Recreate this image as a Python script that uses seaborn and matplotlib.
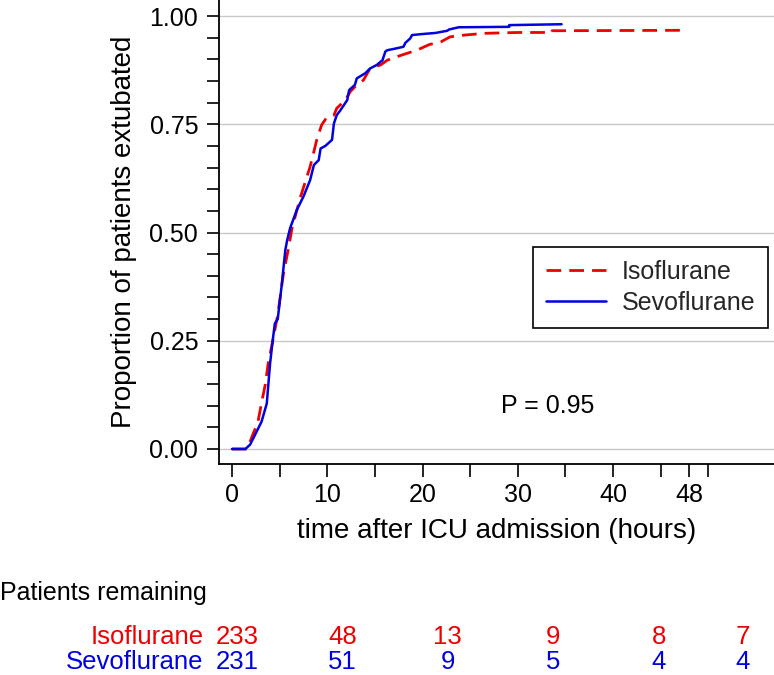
import matplotlib
matplotlib.use('Agg')
import matplotlib.pyplot as plt
import pandas as pd
import seaborn as sns

# cumulative proportion extubated
iso_time = [0, 1.6, 2.25, 2.7, 3.1, 3.5, 3.8, 4.3, 4.8, 5.4, 5.9, 6.3, 7.2, 8.2, 8.9, 9.4,
            9.95, 10.7, 11.0, 11.9, 12.4, 13.1, 13.8, 14.5, 15.6, 16.3, 17.3, 18.4, 19.4,
            20.7, 21.9, 22.9, 24.4, 26.5, 30.0, 33.6, 33.6, 47.2]
iso_prop = [0, 0.0, 0.037, 0.06, 0.106, 0.15, 0.198, 0.252, 0.31, 0.405, 0.46, 0.51, 0.583,
            0.652, 0.714, 0.748, 0.766, 0.771, 0.787, 0.806, 0.825, 0.841, 0.852, 0.879,
            0.887, 0.898, 0.906, 0.914, 0.921, 0.934, 0.940, 0.952, 0.956, 0.96, 0.962,
            0.962, 0.966, 0.967]

sevo_time = [0, 1.4, 1.9, 2.4, 3.1, 3.65, 4.0, 4.28, 4.5, 4.8, 5.2, 5.6, 5.8, 6.1, 6.8, 7.5,
             8.2, 8.6, 9.1, 9.3, 9.8, 10.5, 10.7, 11.0, 11.4, 12.1, 12.3, 12.9, 13.1, 14.0,
             14.5, 15.2, 15.8, 16.1, 16.3, 17.2, 18.0, 18.2, 18.7, 18.9, 19.8, 21.4, 22.6,
             22.8, 23.8, 29.1, 29.1, 34.6]
sevo_prop = [0, 0.0, 0.01, 0.032, 0.063, 0.105, 0.198, 0.252, 0.29, 0.30, 0.375, 0.46, 0.483,
             0.51, 0.552, 0.583, 0.621, 0.656, 0.667, 0.694, 0.70, 0.714, 0.752, 0.771,
             0.783, 0.806, 0.829, 0.841, 0.856, 0.868, 0.879, 0.887, 0.898, 0.918, 0.921,
             0.925, 0.929, 0.938, 0.948, 0.956, 0.958, 0.961, 0.966, 0.969, 0.974, 0.975,
             0.979, 0.981]

risk_times = [0, 10, 20, 30, 40, 48]
iso_at_risk = [233, 48, 13, 9, 8, 7]
sevo_at_risk = [231, 51, 9, 5, 4, 4]

RED = '#ee0000'
BLUE = '#0000e0'
FS = 18

sns.set_theme(style='ticks')
plt.rcParams['font.family'] = ['Liberation Sans', 'DejaVu Sans']

fig = plt.figure(figsize=(7.74, 6.75), dpi=100)
ax = fig.add_axes([219 / 774, 1 - 463.5 / 675, 555 / 774, 463.5 / 675])

df_iso = pd.DataFrame({'time': iso_time, 'prop': iso_prop})
df_sevo = pd.DataFrame({'time': sevo_time, 'prop': sevo_prop})

sns.lineplot(data=df_iso, x='time', y='prop', ax=ax, color=RED, lw=2.0,
             estimator=None, sort=False, label='Isoflurane')
sns.lineplot(data=df_sevo, x='time', y='prop', ax=ax, color=BLUE, lw=1.8,
             estimator=None, sort=False, label='Sevoflurane')
ax.lines[0].set_dashes((5.3, 2.9))

ax.set_xlim(-1.365, 56.9)
ax.set_ylim(-0.0335, 1.037)

ax.set_xticks(risk_times)
ax.set_xticks([5, 15, 25, 35, 45, 50], minor=True)
ax.set_yticks([0, 0.25, 0.5, 0.75, 1.0])
ax.set_yticklabels(['0.00', '0.25', '0.50', '0.75', '1.00'])
ax.set_yticks([i * 0.05 for i in range(21)], minor=True)
ax.tick_params(which='both', direction='out', length=9, width=1.2, color='black',
               labelsize=FS, labelcolor='black', bottom=True, left=True)
ax.tick_params(axis='x', pad=5)
ax.tick_params(axis='y', pad=6)

ax.yaxis.grid(True, which='major', color='#c8c8c8', lw=1.0)
for side in ['top', 'right']:
    ax.spines[side].set_visible(False)
for side in ['left', 'bottom']:
    ax.spines[side].set_color('black')
    ax.spines[side].set_linewidth(1.3)

ax.set_xlabel('time after ICU admission (hours)', fontsize=20, color='black', labelpad=8)
ax.set_ylabel('Proportion of patients extubated', fontsize=20, color='black', labelpad=9)

leg = ax.legend(loc='upper right', bbox_to_anchor=(0.989, 0.467), borderaxespad=0,
                fontsize=FS, frameon=True, fancybox=False, framealpha=1, edgecolor='black',
                handlelength=2.4, handletextpad=0.65, labelspacing=0.3, borderpad=0.5)
leg.get_frame().set_linewidth(1.2)

ax.text(0.593, 0.124, 'P = 0.95', transform=ax.transAxes, ha='center', va='center',
        fontsize=FS, color='black')

# patients remaining table below the plot
tab = fig.add_axes([237 / 774, 0, 506 / 774, 100 / 675])
tab.set_xlim(0, 48)
tab.set_ylim(0, 1)
tab.axis('off')
fig.text(0.0, 1 - 593 / 675, 'Patients remaining', ha='left', va='center',
         fontsize=FS, color='black')
tab.text(-3.2, 0.38, 'Isoflurane', ha='right', va='center', fontsize=18.5, color=RED, clip_on=False)
tab.text(-3.2, 0.13, 'Sevoflurane', ha='right', va='center', fontsize=18.5, color=BLUE, clip_on=False)
for t, n_iso, n_sevo in zip(risk_times, iso_at_risk, sevo_at_risk):
    tab.text(t, 0.38, str(n_iso), ha='center', va='center', fontsize=18.5, color=RED)
    tab.text(t, 0.13, str(n_sevo), ha='center', va='center', fontsize=18.5, color=BLUE)

fig.savefig('out.png', dpi=100)
